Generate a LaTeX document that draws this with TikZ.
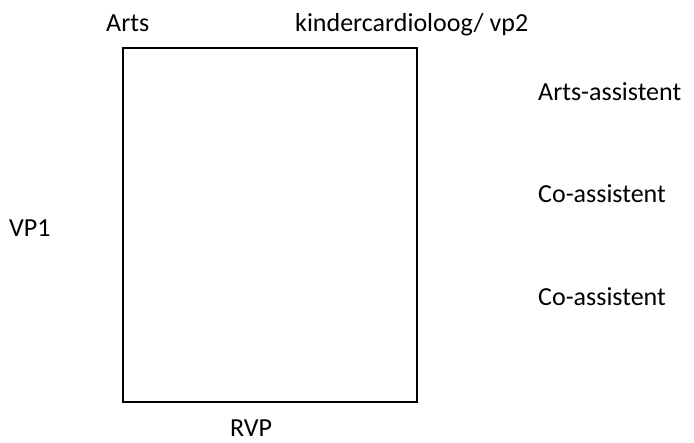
\documentclass[tikz,border=0pt]{standalone}
\usepackage{fontspec}
\setmainfont{Carlito}
\usetikzlibrary{positioning}

\begin{document}
\begin{tikzpicture}[
  x=1pt, y=-1pt,
  line cap=rect,
  line join=miter,
  font=\fontsize{26}{31}\selectfont,
  box/.style={draw=black, line width=1.6pt},
  lbl/.style={anchor=base west, inner sep=0pt, text=black}
]

\useasboundingbox (0,0) rectangle (694,443);

% Frame.
\draw[box] (123,48) rectangle (417,402);

% Labels above the frame.
\node[lbl] (arts) at (106,32) {Arts};
\node[lbl] (kinder) at (295,32) {kindercardioloog/ vp2};

% Labels right of the frame.
\node[lbl] (artsAss) at (538,101) {Arts-assistent};
\node[lbl] (coAssA) at (538,203) {Co-assistent};
\node[lbl] (coAssB) at (538,306) {Co-assistent};

% Left and bottom labels.
\node[lbl] (vpOne) at (9,237) {VP1};
\node[lbl] (rvp) at (230,437) {RVP};

\end{tikzpicture}
\end{document}
